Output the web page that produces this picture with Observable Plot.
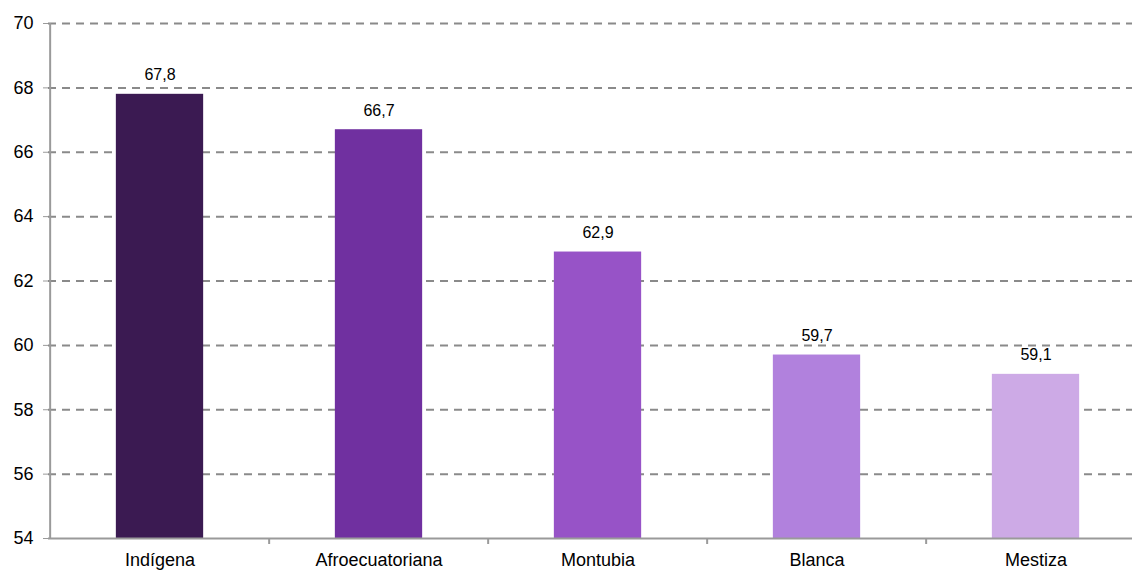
<!DOCTYPE html>
<html><head><meta charset="utf-8">
<script src="https://cdn.jsdelivr.net/npm/d3@7"></script>
<script src="https://cdn.jsdelivr.net/npm/@observablehq/plot@0.6"></script>
<style>body{margin:0;background:#fff;} svg{display:block}</style>
</head><body><div id="chart"></div>
<script>
const categories = ["Indígena","Afroecuatoriana","Montubia","Blanca","Mestiza"];
const values = [67.8, 66.7, 62.9, 59.7, 59.1];
const colors = ["#3b1a52","#7030a0","#9753c7","#b181dd","#cdaae6"];
const yTicks = [54,56,58,60,62,64,66,68,70];

const data = categories.map((c,i)=>({category:c, value:values[i], color:colors[i]}));
const half = (1146.5-48)/5/2;

const chart = Plot.plot({
  width:1132, height:570, marginLeft:48, marginRight:0, marginTop:23, marginBottom:32,
  style:{fontFamily:"'Liberation Sans', Arial, sans-serif", fontSize:"18px", color:"#000", background:"#fff"},
  x:{domain:categories, range:[48,1146.5], padding:0},
  y:{domain:[54,70]},
  marks:[
    Plot.ruleY(yTicks.filter(t=>t>54), {stroke:"#8a8a8a", strokeWidth:2, strokeDasharray:"8,6"}),
    Plot.barY(data, {x:"category", y1:54, y2:"value", fill:"color", insetLeft:65.85, insetRight:65.85}),
    Plot.text(data, {x:"category", y:"value", text:d=>d.value.toFixed(1).replace(".", ","), dy:-19, fontSize:16, fill:"#000"}),
    Plot.ruleY([54], {stroke:"#9a9a9a", strokeWidth:2}),
    Plot.ruleX([categories[0]], {x:d=>d, y1:54, y2:70, dx:-half, stroke:"#9a9a9a", strokeWidth:2}),
    Plot.ruleX(categories.slice(1), {x:d=>d, y1:54, y2:54, dx:-half, insetBottom:-6, stroke:"#9a9a9a", strokeWidth:2}),
    Plot.axisY({ticks:yTicks, tickSize:5, tickPadding:10, stroke:"#9a9a9a", label:null, fontSize:18}),
    Plot.axisX({tickSize:0, tickPadding:15, label:null, fontSize:18})
  ]
});
document.getElementById("chart").appendChild(chart);
</script>
</body></html>
